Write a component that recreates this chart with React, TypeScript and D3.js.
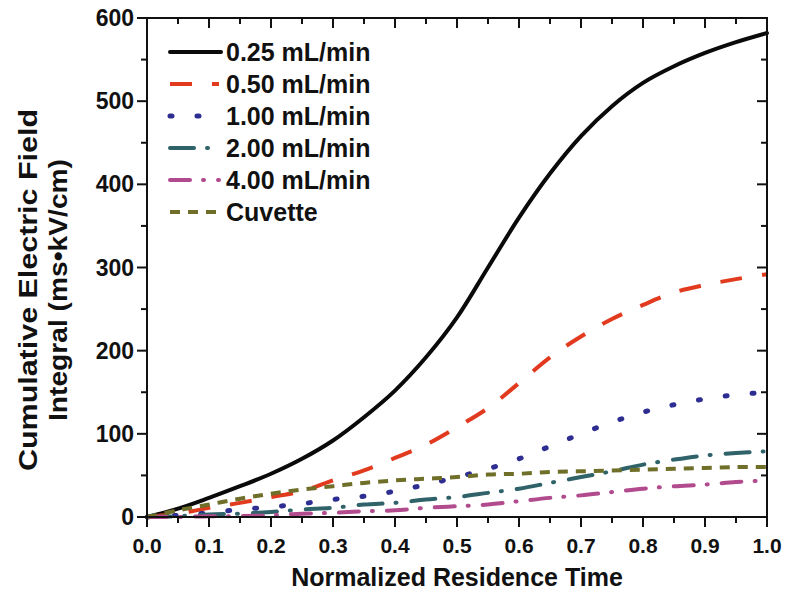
import React from "react";
import * as d3 from "d3";

const times = [0, 0.05, 0.1, 0.15, 0.2, 0.25, 0.3, 0.35, 0.4, 0.45, 0.5, 0.55, 0.6, 0.65, 0.7, 0.75, 0.8, 0.85, 0.9, 0.95, 1.0];
const flow025 = [0, 10, 23, 37, 52, 70, 92, 120, 152, 192, 240, 300, 360, 413, 458, 494, 522, 542, 558, 571, 582];
const flow050 = [0, 4, 11, 17, 24, 31, 44, 56, 71, 87, 108, 131, 161, 192, 217, 238, 255, 270, 279, 286, 292];
const flow100 = [0, 2, 5, 9, 12, 16, 21, 25, 31, 39, 48, 58, 70, 85, 100, 114, 126, 135, 142, 147, 150];
const flow200 = [0, 1, 3, 4, 6, 9, 11, 15, 17, 21, 24, 29, 34, 41, 48, 55, 63, 69, 74, 77, 79];
const flow400 = [0, 0, 1, 1, 2, 4, 5, 7, 8, 11, 13, 15, 19, 23, 26, 30, 34, 37, 39, 42, 44];
const cuvette = [0, 8, 15, 22, 28, 33, 37, 41, 44, 46, 48, 51, 52, 54, 55, 56, 57, 58, 59, 60, 60];

const seriesNames = ["0.25 mL/min", "0.50 mL/min", "1.00 mL/min", "2.00 mL/min", "4.00 mL/min", "Cuvette"];
const seriesValues = [flow025, flow050, flow100, flow200, flow400, cuvette];
const xTicks = [0, 0.1, 0.2, 0.3, 0.4, 0.5, 0.6, 0.7, 0.8, 0.9, 1.0];
const yTicks = [0, 100, 200, 300, 400, 500, 600];

const styles = [
  { color: "#0a0a0a", dash: "", cap: "round" },
  { color: "#e23a1e", dash: "22 20", cap: "butt" },
  { color: "#2e2e92", dash: "2 25", cap: "round" },
  { color: "#2f6269", dash: "24 13 1 15", cap: "round" },
  { color: "#b24b8e", dash: "20 13 1 14", cap: "round" },
  { color: "#6f6f2a", dash: "10 8", cap: "butt" },
];

export default function App() {
  const W = 785, H = 598;
  const L = 147, R = 767, T = 18, B = 517;
  const x = d3.scaleLinear().domain([0, 1]).range([L, R]);
  const y = d3.scaleLinear().domain([0, 600]).range([B, T]);
  const font = "'Liberation Sans', Arial, sans-serif";

  const minorX = d3.range(0, 1.0001, 0.05);
  const minorY = d3.range(0, 600.1, 50);

  const line = d3.line<number>()
    .x((_, i) => x(times[i]))
    .y((v) => y(v))
    .curve(d3.curveCatmullRom.alpha(0.5));

  const legendY = [52, 84, 116, 148, 180, 212];

  return (
    <svg width={W} height={H} style={{ position: "absolute", left: 0, top: 0, background: "#fff" }}>
      <rect x={0} y={0} width={W} height={H} fill="#fff" />
      {seriesValues.map((vals, i) => (
        <path key={i} d={line(vals) || ""} fill="none" stroke={styles[i].color}
          strokeWidth={i === 2 ? 5 : 4} strokeDasharray={styles[i].dash}
          strokeLinecap={styles[i].cap as any} />
      ))}
      <rect x={L} y={T} width={R - L} height={B - T} fill="none" stroke="#111" strokeWidth={2} />
      {minorX.map((t, i) => {
        const major = i % 2 === 0;
        const len = major ? 10 : 6;
        return (
          <g key={"x" + i}>
            <line x1={x(t)} x2={x(t)} y1={B} y2={B + len} stroke="#111" strokeWidth={2} />
            <line x1={x(t)} x2={x(t)} y1={T} y2={T + len} stroke="#111" strokeWidth={2} />
          </g>
        );
      })}
      {minorY.map((v, i) => {
        const major = i % 2 === 0;
        const len = major ? 10 : 6;
        return (
          <g key={"y" + i}>
            <line x1={L - len} x2={L} y1={y(v)} y2={y(v)} stroke="#111" strokeWidth={2} />
            <line x1={R - len} x2={R} y1={y(v)} y2={y(v)} stroke="#111" strokeWidth={2} />
          </g>
        );
      })}
      {xTicks.map((t) => (
        <text key={"xl" + t} x={x(t)} y={553} textAnchor="middle" fontFamily={font} fontWeight="bold" fontSize={21} fill="#111">
          {t.toFixed(1)}
        </text>
      ))}
      {yTicks.map((v) => (
        <text key={"yl" + v} x={134} y={y(v) + 8} textAnchor="end" fontFamily={font} fontWeight="bold" fontSize={23} fill="#111">
          {v}
        </text>
      ))}
      <text x={457} y={586} textAnchor="middle" fontFamily={font} fontWeight="bold" fontSize={25} fill="#111">
        Normalized Residence Time
      </text>
      <g transform="translate(37,290) rotate(-90)">
        <text x={0} y={0} textAnchor="middle" fontFamily={font} fontWeight="bold" fontSize={25} fill="#111" textLength={362} lengthAdjust="spacingAndGlyphs">
          Cumulative Electric Field
        </text>
        <text x={0} y={30} textAnchor="middle" fontFamily={font} fontWeight="bold" fontSize={25} fill="#111" textLength={262} lengthAdjust="spacingAndGlyphs">
          Integral (ms•kV/cm)
        </text>
      </g>
      {seriesNames.map((name, i) => (
        <g key={"lg" + i}>
          <line x1={170} x2={i === 0 ? 221 : 219} y1={legendY[i]} y2={legendY[i]} stroke={styles[i].color}
            strokeWidth={i === 2 ? 5 : 4} strokeDasharray={styles[i].dash} strokeLinecap={styles[i].cap as any} />
          <text x={226} y={legendY[i] + 8.5} fontFamily={font} fontWeight="bold" fontSize={25} fill="#111">
            {name}
          </text>
        </g>
      ))}
    </svg>
  );
}
